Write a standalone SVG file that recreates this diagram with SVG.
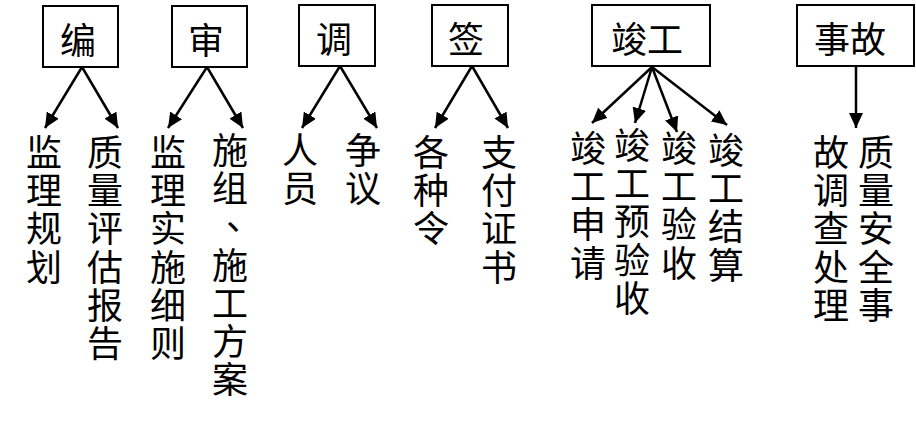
<svg xmlns="http://www.w3.org/2000/svg" width="916" height="437" viewBox="0 0 916 437">
<style>
.box rect{fill:#fff;stroke:#000;stroke-width:2}
text{font-family:"Noto Sans CJK SC","Noto Sans CJK JP",sans-serif;font-size:36px;fill:#000;text-anchor:middle}
#connectors line{stroke:#000;stroke-width:2.5;marker-end:url(#ah)}
</style>
<defs>
<marker id="ah" markerUnits="userSpaceOnUse" markerWidth="16" markerHeight="14" refX="15" refY="7" orient="auto">
<path d="M0,0 L15,7 L0,14 Z" fill="#000"/>
</marker>
</defs>
<rect width="916" height="437" fill="#fff"/>
<g id="connectors">
<line x1="82" y1="67" x2="45" y2="128"/>
<line x1="82" y1="67" x2="118" y2="128"/>
<line x1="207" y1="67" x2="168" y2="128"/>
<line x1="207" y1="67" x2="243" y2="128"/>
<line x1="340" y1="66" x2="302" y2="128"/>
<line x1="340" y1="66" x2="377" y2="128"/>
<line x1="472" y1="66" x2="435" y2="128"/>
<line x1="472" y1="66" x2="508" y2="128"/>
<line x1="652" y1="67" x2="592" y2="123"/>
<line x1="652" y1="67" x2="635" y2="123"/>
<line x1="652" y1="67" x2="677" y2="132"/>
<line x1="652" y1="67" x2="727" y2="125"/>
<line x1="856" y1="66" x2="856" y2="128"/>
</g>
<g id="n-bian" class="box"><rect x="43" y="6" width="75" height="61"/><text x="78" y="54">编</text></g>
<g id="n-shen" class="box"><rect x="172" y="6" width="75" height="61"/><text x="206" y="54">审</text></g>
<g id="n-tiao" class="box"><rect x="299" y="5" width="76" height="61"/><text x="334" y="53">调</text></g>
<g id="n-qian" class="box"><rect x="432" y="5" width="76" height="61"/><text x="466" y="53">签</text></g>
<g id="n-jungong" class="box"><rect x="592" y="5" width="118" height="61"/><text x="647" y="53">竣工</text></g>
<g id="n-shigu" class="box"><rect x="797" y="5" width="117" height="61"/><text x="850" y="53">事故</text></g>
<g id="t-jlgh"><text x="44" y="166"><tspan x="44">监</tspan><tspan x="44" dy="38.2">理</tspan><tspan x="44" dy="38.2">规</tspan><tspan x="44" dy="38.2">划</tspan></text></g>
<g id="t-zlpg"><text x="105" y="166"><tspan x="105">质</tspan><tspan x="105" dy="38.2">量</tspan><tspan x="105" dy="38.2">评</tspan><tspan x="105" dy="38.2">估</tspan><tspan x="105" dy="38.2">报</tspan><tspan x="105" dy="38.2">告</tspan></text></g>
<g id="t-jlss"><text x="168" y="166"><tspan x="168">监</tspan><tspan x="168" dy="38.2">理</tspan><tspan x="168" dy="38.2">实</tspan><tspan x="168" dy="38.2">施</tspan><tspan x="168" dy="38.2">细</tspan><tspan x="168" dy="38.2">则</tspan></text></g>
<g id="t-szsg"><text x="230" y="164"><tspan x="230">施</tspan><tspan x="230" dy="38.2">组</tspan></text><text x="226" y="230" style="text-anchor:start">、</text><text x="230" y="278.6"><tspan x="230">施</tspan><tspan x="230" dy="38.2">工</tspan><tspan x="230" dy="38.2">方</tspan><tspan x="230" dy="38.2">案</tspan></text></g>
<g id="t-ry"><text x="300" y="164"><tspan x="300">人</tspan><tspan x="300" dy="38.2">员</tspan></text></g>
<g id="t-zy"><text x="363" y="164"><tspan x="363">争</tspan><tspan x="363" dy="38.2">议</tspan></text></g>
<g id="t-gzl"><text x="431" y="166"><tspan x="431">各</tspan><tspan x="431" dy="38.2">种</tspan><tspan x="431" dy="38.2">令</tspan></text></g>
<g id="t-zfzs"><text x="499" y="166"><tspan x="499">支</tspan><tspan x="499" dy="38.2">付</tspan><tspan x="499" dy="38.2">证</tspan><tspan x="499" dy="38.2">书</tspan></text></g>
<g id="t-jgsq"><text x="588" y="162"><tspan x="588">竣</tspan><tspan x="588" dy="38.2">工</tspan><tspan x="588" dy="38.2">申</tspan><tspan x="588" dy="38.2">请</tspan></text></g>
<g id="t-jgyys"><text x="632" y="159"><tspan x="632">竣</tspan><tspan x="632" dy="38.2">工</tspan><tspan x="632" dy="38.2">预</tspan><tspan x="632" dy="38.2">验</tspan><tspan x="632" dy="38.2">收</tspan></text></g>
<g id="t-jgys"><text x="679" y="162"><tspan x="679">竣</tspan><tspan x="679" dy="38.2">工</tspan><tspan x="679" dy="38.2">验</tspan><tspan x="679" dy="38.2">收</tspan></text></g>
<g id="t-jgjs"><text x="726" y="164"><tspan x="726">竣</tspan><tspan x="726" dy="38.2">工</tspan><tspan x="726" dy="38.2">结</tspan><tspan x="726" dy="38.2">算</tspan></text></g>
<g id="t-sgdc"><text x="876" y="166"><tspan x="876">质</tspan><tspan x="876" dy="38.2">量</tspan><tspan x="876" dy="38.2">安</tspan><tspan x="876" dy="38.2">全</tspan><tspan x="876" dy="38.2">事</tspan></text><text x="831" y="166"><tspan x="831">故</tspan><tspan x="831" dy="38.2">调</tspan><tspan x="831" dy="38.2">查</tspan><tspan x="831" dy="38.2">处</tspan><tspan x="831" dy="38.2">理</tspan></text></g>
</svg>
